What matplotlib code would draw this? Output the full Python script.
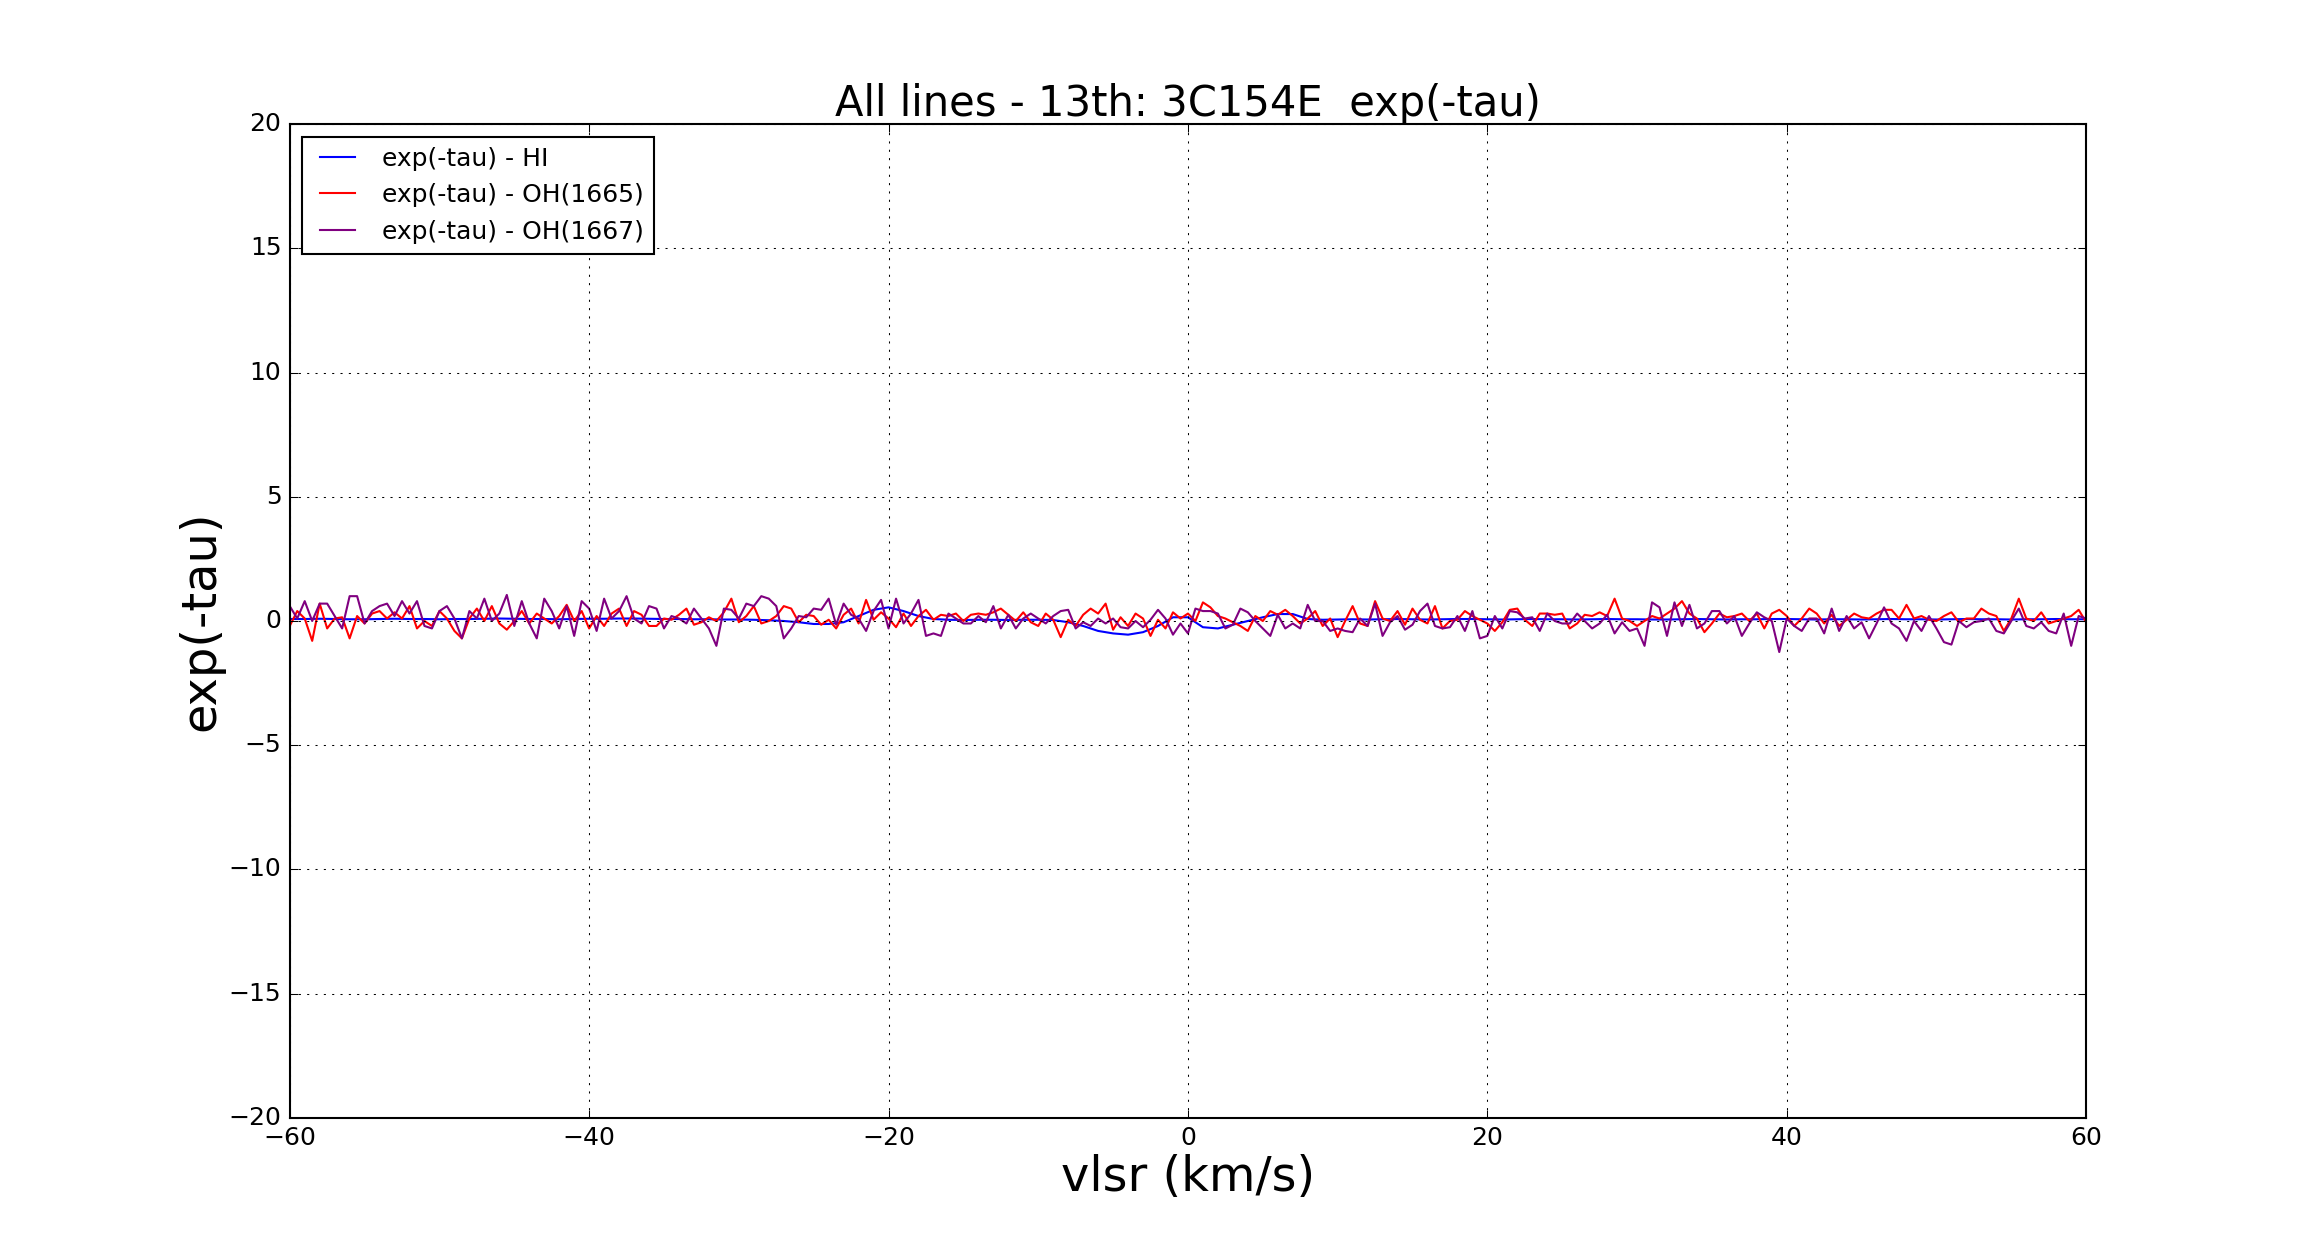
import numpy as np
import matplotlib
matplotlib.use("Agg")
import matplotlib.pyplot as plt

# ---------- spectra ----------

# channel grid of the OH spectra (km/s)
vel_oh = np.arange(-60.0, 60.01, 0.5)

oh1665 = [
    -0.2, 0.4, 0.1, -0.8, 0.7, -0.3, 0.1, 0.15, -0.7, 0.2,
    -0.1, 0.3, 0.4, 0.1, 0.35, 0.1, 0.6, -0.3, 0.0, -0.2,
    0.4, 0.1, -0.4, -0.7, 0.1, 0.5, 0.0, 0.6, -0.1, -0.35,
    0.0, 0.4, -0.1, 0.3, 0.1, -0.1, 0.2, 0.65, 0.0, 0.4,
    -0.3, 0.2, -0.2, 0.3, 0.5, -0.2, 0.4, 0.25, -0.2, -0.2,
    0.1, 0.05, 0.25, 0.5, -0.15, -0.05, 0.15, 0.0, 0.35, 0.9,
    -0.05, 0.2, 0.6, -0.1, 0.0, 0.2, 0.6, 0.5, -0.05, 0.25,
    0.2, -0.15, 0.05, -0.3, 0.25, 0.5, -0.1, 0.85, 0.05, 0.35,
    0.1, -0.25, 0.3, -0.2, 0.2, 0.45, 0.05, 0.25, 0.2, 0.3,
    0.0, 0.25, 0.3, 0.25, 0.35, 0.5, 0.25, 0.0, 0.35, -0.05,
    -0.2, 0.3, 0.05, -0.65, 0.05, -0.2, 0.25, 0.5, 0.3, 0.7,
    -0.35, 0.15, -0.2, 0.3, 0.1, -0.6, 0.05, -0.3, 0.35, 0.1,
    0.3,
    0.0, 0.75, 0.55, 0.2, 0.1, -0.05, -0.2, -0.4, 0.2, 0.0,
    0.4, 0.25, 0.45, 0.2, -0.1, 0.1, 0.4, -0.2, 0.1, -0.65,
    0.0, 0.6, -0.1, -0.2, 0.8, 0.1, 0.0, 0.4, -0.15, 0.5,
    0.05, -0.1, 0.6, -0.3, 0.0, 0.05, 0.4, 0.2, 0.05, -0.1,
    -0.4, -0.05, 0.45, 0.5, 0.05, -0.2, 0.3, 0.3, 0.25, 0.3,
    -0.3, -0.1, 0.25, 0.2, 0.35, 0.2, 0.9, 0.1, 0.0, -0.2,
    0.0, 0.2, 0.1, 0.3, 0.5, 0.8, 0.3, 0.1, -0.45, -0.1,
    0.3, 0.15, 0.2, 0.3, 0.0, 0.3, -0.3, 0.3, 0.45, 0.2,
    -0.2, 0.1, 0.5, 0.3, -0.1, 0.25, -0.2, 0.05, 0.3, 0.15,
    0.1, 0.3, 0.45, 0.45, 0.1, 0.65, 0.1, 0.2, 0.05, 0.0,
    0.2, 0.35, -0.05, 0.1, 0.1, 0.5, 0.3, 0.2, -0.4, 0.1,
    0.9, 0.1, 0.0, 0.35, -0.1, 0.0, 0.1, 0.2, 0.45, -0.05,
]

oh1667 = [
    0.6, 0.1, 0.8, 0.0, 0.7, 0.7, 0.2, -0.3, 1.0, 1.0,
    -0.1, 0.4, 0.6, 0.7, 0.2, 0.8, 0.3, 0.8, -0.2, -0.3,
    0.4, 0.6, 0.1, -0.7, 0.4, 0.1, 0.9, 0.0, 0.3, 1.05,
    -0.2, 0.8, -0.1, -0.7, 0.9, 0.4, -0.3, 0.6, -0.6, 0.8,
    0.5, -0.4, 0.9, 0.1, 0.4, 1.0, 0.1, -0.1, 0.6, 0.5,
    -0.3, 0.2, 0.1, -0.1, 0.5, 0.1, -0.3, -1.0, 0.5, 0.45,
    0.1, 0.7, 0.6, 1.0, 0.9, 0.6, -0.7, -0.3, 0.2, 0.15,
    0.5, 0.45, 0.9, -0.15, 0.7, 0.25, 0.1, -0.4, 0.4, 0.85,
    -0.3, 0.9, -0.1, 0.3, 0.85, -0.6, -0.5, -0.6, 0.3, 0.1,
    -0.1, -0.1, 0.2, -0.05, 0.6, -0.3, 0.25, -0.3, 0.1, 0.3,
    0.1, -0.1, 0.2, 0.4, 0.45, -0.3, -0.05, -0.2, 0.1, -0.1,
    0.1, -0.25, -0.3, 0.0, -0.25, 0.05, 0.45, 0.1, -0.55, -0.1,
    -0.5,
    0.5, 0.4, 0.4, 0.3, -0.3, -0.15, 0.5, 0.35, 0.0, -0.3,
    -0.6, 0.25, -0.3, -0.1, -0.3, 0.65, 0.0, 0.0, -0.4, -0.3,
    -0.4, -0.45, 0.1, -0.2, 0.7, -0.6, -0.05, 0.2, -0.35, -0.15,
    0.4, 0.7, -0.2, -0.3, -0.25, 0.2, -0.4, 0.4, -0.7, -0.6,
    0.2, -0.3, 0.4, 0.35, 0.1, 0.15, -0.4, 0.3, 0.0, -0.1,
    -0.1, 0.3, 0.0, -0.3, -0.1, 0.25, -0.5, -0.05, -0.4, -0.3,
    -1.0, 0.75, 0.55, -0.6, 0.75, -0.2, 0.65, -0.3, -0.1, 0.4,
    0.4, -0.1, 0.2, -0.6, -0.1, 0.35, 0.15, 0.0, -1.25, 0.1,
    -0.2, -0.4, 0.1, 0.1, -0.5, 0.5, -0.4, 0.2, -0.3, -0.05,
    -0.7, -0.1, 0.55, -0.1, -0.3, -0.8, 0.0, -0.4, 0.2, -0.3,
    -0.85, -0.95, 0.0, -0.25, -0.05, 0.0, 0.1, -0.4, -0.5, 0.0,
    0.5, -0.2, -0.3, -0.05, -0.4, -0.5, 0.3, -1.0, 0.2, 0.1,
]

# HI is much smoother, 1 km/s is enough
vel_hi = np.arange(-60.0, 60.01, 1.0)

hi = [
    0.08, 0.08, 0.09, 0.08, 0.07, 0.07, 0.08, 0.09, 0.08, 0.08,
    0.07, 0.08, 0.08, 0.09, 0.1, 0.09, 0.08, 0.08, 0.07, 0.08,
    0.09, 0.09, 0.1, 0.1, 0.09, 0.08, 0.08, 0.07, 0.07, 0.06,
    0.06,
    0.05, 0.03, 0.0, -0.05, -0.12, -0.12, -0.05, 0.2, 0.45, 0.55,
    0.4, 0.2, 0.08, 0.05, 0.04, 0.05, 0.05, 0.04, 0.05, 0.05,
    0.04, -0.05, -0.2, -0.4, -0.5, -0.55, -0.45, -0.2, 0.15,
    0.15, -0.25, -0.3, -0.15, 0.0, 0.15, 0.28, 0.28, 0.08, 0.05,
    0.06, 0.07, 0.06, 0.07, 0.08, 0.07, 0.06, 0.07, 0.08, 0.08,
    0.07, 0.06, 0.07, 0.08, 0.07, 0.07, 0.06, 0.07, 0.08, 0.07,
    0.07, 0.06, 0.06, 0.07, 0.08, 0.07, 0.06, 0.07, 0.07, 0.08,
    0.08, 0.07, 0.06, 0.07, 0.07, 0.06, 0.07, 0.08, 0.07, 0.07,
    0.06, 0.07, 0.08, 0.07, 0.07, 0.06, 0.07, 0.07, 0.08, 0.07,
    0.07,
]

labels = ["exp(-tau) - HI", "exp(-tau) - OH(1665)", "exp(-tau) - OH(1667)"]

# ---------- plot ----------

plt.style.use("classic")

fig = plt.figure(figsize=(15.453, 8.28), dpi=150)
ax = fig.add_subplot(111)

ax.plot(vel_hi, hi, color="b", lw=1, label=labels[0])
ax.plot(vel_oh, oh1665, color="r", lw=1, label=labels[1])
ax.plot(vel_oh, oh1667, color="purple", lw=1, label=labels[2])

ax.set_xlim(-60, 60)
ax.set_ylim(-20, 20)
ax.grid(True)

ax.set_title("All lines - 13th: 3C154E  exp(-tau)", fontsize=20, pad=4)
ax.set_xlabel("vlsr (km/s)", fontsize=23, labelpad=2)
ax.set_ylabel("exp(-tau)", fontsize=23, labelpad=2)
ax.legend(loc="upper left", fontsize=12)

fig.savefig("out.png", dpi=150, facecolor="white")
